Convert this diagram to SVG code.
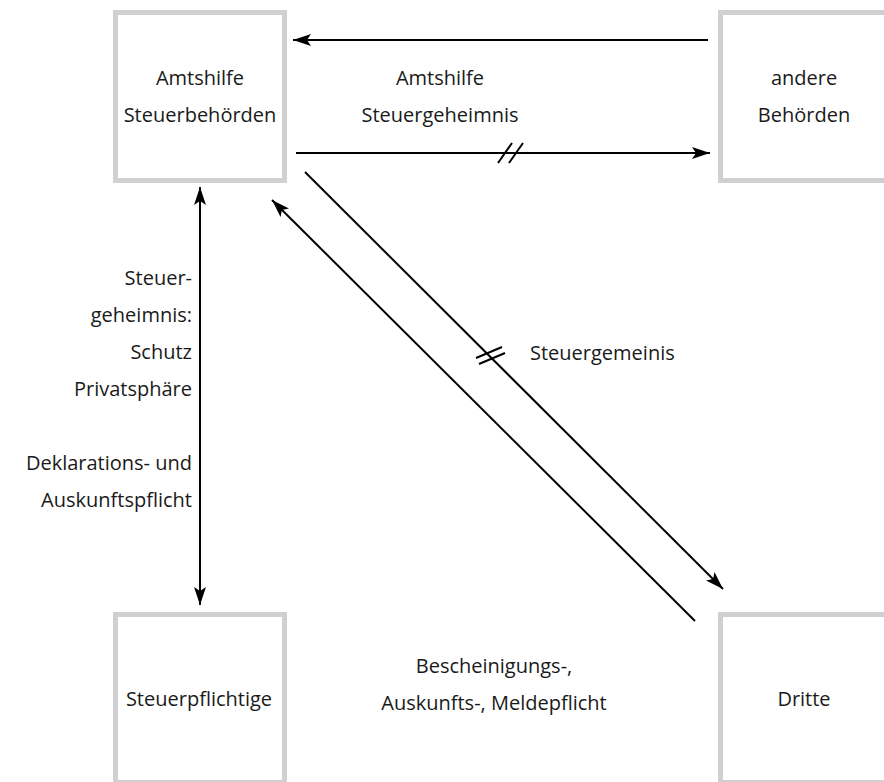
<svg xmlns="http://www.w3.org/2000/svg" width="884" height="782" viewBox="0 0 884 782">
<style>
.box{fill:#fff;stroke:#d0d0d0;stroke-width:5}
.t{font-family:"Open Sans","Liberation Sans",sans-serif;font-size:20px;fill:#1a1a1a}
.c{text-anchor:middle}
.r{text-anchor:end}
.ln{stroke:#000;stroke-width:2;fill:none}
</style>
<defs>
<marker id="ah" markerUnits="userSpaceOnUse" viewBox="0 0 18 12" refX="18" refY="6" markerWidth="18" markerHeight="12" orient="auto-start-reverse">
<path d="M0,0 L18,6 L0,12 L4,6 z" fill="#000"/>
</marker>
</defs>
<rect width="884" height="782" fill="#fff"/>
<g id="n-steuerbehoerden">
<rect class="box" x="115.5" y="12.5" width="169" height="168"/>
<text class="t c" x="200" y="85">Amtshilfe</text>
<text class="t c" x="200" y="122">Steuerbehörden</text>
</g>
<g id="n-andere">
<rect class="box" x="720.5" y="12.5" width="169" height="168"/>
<text class="t c" x="804" y="85">andere</text>
<text class="t c" x="804" y="122">Behörden</text>
</g>
<g id="n-steuerpflichtige">
<rect class="box" x="115.5" y="614.5" width="169" height="168"/>
<text class="t c" x="199" y="706">Steuerpflichtige</text>
</g>
<g id="n-dritte">
<rect class="box" x="720.5" y="614.5" width="169" height="168"/>
<text class="t c" x="804" y="706">Dritte</text>
</g>
<g id="connectors">
<line class="ln" x1="708" y1="40" x2="293" y2="40" marker-end="url(#ah)"/>
<line class="ln" x1="296" y1="153" x2="710" y2="153" marker-end="url(#ah)"/>
<line class="ln" x1="498" y1="163" x2="512" y2="143"/>
<line class="ln" x1="509" y1="163" x2="523" y2="143"/>
<line class="ln" x1="200" y1="187" x2="200" y2="605" marker-start="url(#ah)" marker-end="url(#ah)"/>
<line class="ln" x1="305" y1="172" x2="723" y2="589" marker-end="url(#ah)"/>
<line class="ln" x1="695" y1="621" x2="272" y2="200" marker-end="url(#ah)"/>
<line class="ln" x1="476" y1="358" x2="502" y2="347"/>
<line class="ln" x1="479" y1="364" x2="505" y2="353"/>
</g>
<g id="labels">
<text class="t c" x="440" y="85">Amtshilfe</text>
<text class="t c" x="440" y="122">Steuergeheimnis</text>
<text class="t" x="530" y="360">Steuergemeinis</text>
<text class="t r" x="192" y="285">Steuer-</text>
<text class="t r" x="192" y="322">geheimnis:</text>
<text class="t r" x="192" y="359">Schutz</text>
<text class="t r" x="192" y="396">Privatsphäre</text>
<text class="t r" x="192" y="470">Deklarations- und</text>
<text class="t r" x="192" y="507">Auskunftspflicht</text>
<text class="t c" x="494" y="673">Bescheinigungs-,</text>
<text class="t c" x="494" y="710">Auskunfts-, Meldepflicht</text>
</g>
</svg>
